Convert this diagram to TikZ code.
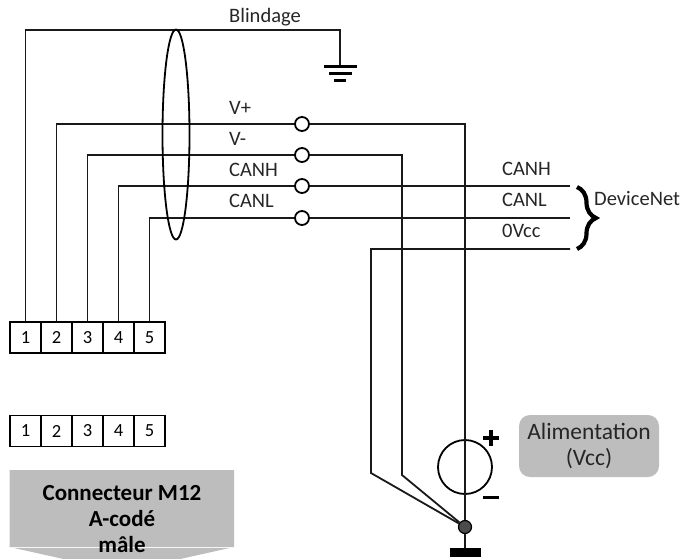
\documentclass[tikz,border=0pt]{standalone}
\usepackage{fontspec}
\setmainfont{Carlito}
\usetikzlibrary{decorations.pathreplacing,shapes.geometric}
\definecolor{boxgray}{RGB}{189,189,189}
\tikzset{
	wire/.style={line width=1.8pt,black!90},
	pinbox/.style={draw,line width=1.8pt,minimum width=31pt,minimum height=31pt,inner sep=0pt,font=\fontsize{18.5pt}{18.5pt}\selectfont},
	jack/.style={circle,draw,line width=1.8pt,fill=white,minimum size=14pt,inner sep=0pt},
	lbl/.style={anchor=west,inner sep=0pt,font=\fontsize{20.5pt}{20.5pt}\selectfont,text=black!85}
}
\begin{document}
\begin{tikzpicture}[x=1pt,y=-1pt]
	\useasboundingbox (0,0) rectangle (681,558);
	% connector body
	\begin{scope}
	\clip (0,0) rectangle (681,558);
	\fill[boxgray] (9.5,470)--(234,470)--(234,547)--(122,572)--(9.5,547)--cycle;
	\draw[white!85!boxgray,line width=.6pt] (9.5,547)--(234,547);
	\end{scope}
	\node[align=center,inner sep=0pt,font=\bfseries\fontsize{23pt}{26pt}\selectfont] (m12) at (122,519) {Connecteur M12\\A-codé\\mâle};
	% supply label
	\node[draw=none,fill=boxgray,rounded corners=11pt,minimum width=140pt,minimum height=62pt,inner sep=0pt,align=center,font=\fontsize{23.5pt}{26pt}\selectfont,text=black!85] (alim) at (589,446) {Alimentation\\(Vcc)};
	% pins
	\foreach \n in {1,...,5}{
		\node[pinbox] (a\n) at (25.5+31*\n-31,337.5) {\n};
		\node[pinbox] (b\n) at (25.5+31*\n-31,431) {\n};
	}
	% jacks
	\node[jack] (j2) at (302,124) {};
	\node[jack] (j3) at (302,155) {};
	\node[jack] (j4) at (302,186) {};
	\node[jack] (j5) at (302,218) {};
	% free ends
	\coordinate (gnd) at (340,66);
	\coordinate (canh) at (570,186);
	\coordinate (canl) at (570,218);
	\coordinate (zero) at (570,249);
	\coordinate (foot) at (465,549);
	% junction and source
	\node[circle,draw,line width=1.8pt,minimum size=54pt,inner sep=0pt] (src) at (465,467) {};
	\node[circle,draw=black,line width=1.2pt,fill=black!70,minimum size=13pt,inner sep=0pt] (dot) at (465,527) {};
	% wires
	\draw[wire] (a1.north)--(25.5,30)--(340,30)--(gnd);
	\draw[wire] (a2.north)|-(j2);
	\draw[wire] (a3.north)|-(j3);
	\draw[wire] (a4.north)|-(j4);
	\draw[wire] (a5.north)|-(j5);
	\draw[wire] (j2)--(465,124)--(dot);
	\draw[wire] (j3)--(402,155)--(402,475)--(dot);
	\draw[wire] (j4)--(canh);
	\draw[wire] (j5)--(canl);
	\draw[wire] (zero)--(371,249)--(371,473)--(dot);
	\draw[wire] (dot)--(foot);
	% shield
	\node[ellipse,draw,line width=1.8pt,minimum width=27pt,minimum height=210pt,inner sep=0pt] (shield) at (176,134.5) {};
	% earth
	\draw[line width=3pt] (324,66)--(357,66);
	\draw[line width=3pt] (329,73)--(352,73);
	\draw[line width=3pt] (334,80)--(346,80);
	\node[fill=black,minimum width=31pt,minimum height=9pt,inner sep=0pt] (bar) at (465,552.5) {};
	% polarity
	\draw[line width=3.5pt] (483,438)--(499,438);
	\draw[line width=3.5pt] (491,430)--(491,446);
	\draw[line width=3.5pt] (483,497.5)--(499,497.5);
	% brace
	\draw[line width=4.2pt,decorate,decoration={brace,amplitude=19pt}] (577,187)--(577,249);
	% labels
	\node[lbl] (blind) at (229,17) {Blindage};
	\node[lbl] (lvp) at (229,108) {V+};
	\node[lbl] (lvm) at (229,139) {V-};
	\node[lbl] (lh) at (229,170) {CANH};
	\node[lbl] (ll) at (229,201) {CANL};
	\node[lbl] (rh) at (502,169) {CANH};
	\node[lbl] (rl) at (502,200) {CANL};
	\node[lbl] (rz) at (502,231) {0Vcc};
	\node[lbl] (dn) at (594,199) {DeviceNet};
\end{tikzpicture}
\end{document}
